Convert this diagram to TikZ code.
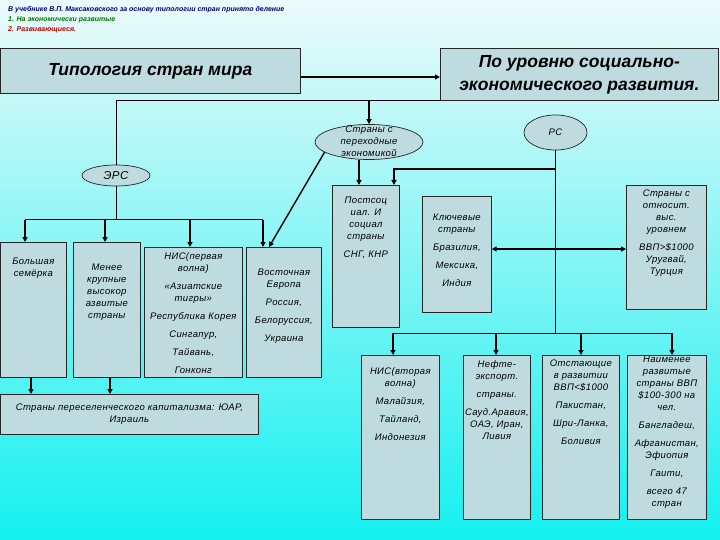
\documentclass[tikz,border=0pt]{standalone}
\usepackage{fontspec}
\setmainfont{Liberation Sans}
\newfontfamily\bxfont[LetterSpace=4]{Liberation Sans}
\usetikzlibrary{shapes.geometric,arrows.meta}
\definecolor{boxfill}{RGB}{190,220,224}
\definecolor{bgtop}{RGB}{236,250,250}
\definecolor{bgmid}{RGB}{160,240,244}
\definecolor{bgbot}{RGB}{20,240,240}
\definecolor{navytxt}{RGB}{0,0,128}
\definecolor{greentxt}{RGB}{0,120,0}
\definecolor{redtxt}{RGB}{190,0,0}
\newcommand{\btext}[4]{\parbox[c][#2][t]{#1}{\centering\vspace*{#3}#4\par}}
\newcommand{\ztext}[1]{\makebox[0pt]{\smash{\raisebox{-2.5pt}{\begin{tabular}{@{}c@{}}#1\end{tabular}}}}}
\begin{document}
\begin{tikzpicture}[x=1pt,y=-1pt,
  box/.style={draw=black!85, fill=boxfill, line width=0.7pt, inner sep=0pt, anchor=north west,
    font=\bxfont\itshape\fontsize{9.5}{12}\selectfont},
  titlebox/.style={draw=black!85, fill=boxfill, line width=0.7pt, inner sep=0pt, anchor=north west,
    align=center, font=\bfseries\itshape\fontsize{17.5}{23}\selectfont},
  ell/.style={ellipse, draw=black!85, fill=boxfill, line width=0.7pt, inner sep=0pt,
    font=\bxfont\itshape\fontsize{9.5}{12}\selectfont},
  note/.style={anchor=west, inner sep=0pt, font=\bfseries\itshape\fontsize{7}{8}\selectfont},
  line/.style={line width=1pt},
  arr/.style={line width=1.4pt, -{Triangle[length=5pt,width=5pt]}},
  arr2/.style={line width=1.2pt, {Triangle[length=5pt,width=5pt]}-{Triangle[length=5pt,width=5pt]}}]
\useasboundingbox (0,0) rectangle (720,540);
\shade[top color=bgtop, middle color=bgmid, bottom color=bgbot] (0,0) rectangle (720,540);

% notes
\node[note, text=navytxt] (n1) at (8,10) {В учебнике В.П. Максаковского за основу типологии стран принято деление};
\node[note, text=greentxt] (n2) at (8,20) {1. На экономически развитые};
\node[note, text=redtxt] (n3) at (8,30) {2. Развивающиеся.};

% titles
\node[titlebox, minimum width=300pt, minimum height=45pt] (typ) at (0,48) {Типология стран мира};
\node[titlebox, minimum width=278pt, minimum height=52pt] (lvl) at (440,48) {По уровню социально-\\экономического развития.};

% ellipses
\node[ell, minimum width=68pt, minimum height=21pt, font=\bxfont\itshape\fontsize{11.5}{12}\selectfont] (ers) at (116,175.5) {ЭРС};
\node[ell, minimum width=108pt, minimum height=35pt] (trans) at (369,142) {\ztext{Страны с\\переходные\\экономикой}};
\node[ell, minimum width=63pt, minimum height=35pt] (pc) at (555.5,132.5) {РС};

% left row
\node[box] (big) at (0,242) {\btext{66pt}{135pt}{16pt}{Большая\\семёрка}};
\node[box] (less) at (73,242) {\btext{67pt}{135pt}{22pt}{Менее\\крупные\\высокор\\азвитые\\страны}};
\node[box] (nis1) at (144,247) {\btext{98pt}{130pt}{5pt}{НИС(первая\\волна)\\[6pt]«Азиатские\\тигры»\\[6pt]Республика Корея\\[6pt]Сингапур,\\[6pt]Тайвань,\\[6pt]Гонконг}};
\node[box] (east) at (246,247) {\btext{75pt}{130pt}{22pt}{Восточная\\Европа\\[6pt]Россия,\\[6pt]Белоруссия,\\[6pt]Украина}};

% middle
\node[box] (post) at (332,185) {\btext{67pt}{142pt}{12pt}{Постсоц\\иал. И\\социал\\страны\\[6pt]СНГ, КНР}};
\node[box] (key) at (422,196) {\btext{69pt}{116pt}{18pt}{Ключевые\\страны\\[6pt]Бразилия,\\[6pt]Мексика,\\[6pt]Индия}};
\node[box] (high) at (626,185) {\btext{80pt}{124pt}{5pt}{Страны с\\относит.\\выс.\\уровнем\\[6pt]ВВП>\$1000\\Уругвай,\\Турция}};

% settlement
\node[box, minimum width=258pt, minimum height=40pt, align=center] (settle) at (0,394) {Страны переселенческого капитализма: ЮАР,\\Израиль};

% bottom row
\node[box] (nis2) at (361,355) {\btext{78pt}{164pt}{12pt}{НИС(вторая\\волна)\\[6pt]Малайзия,\\[6pt]Тайланд,\\[6pt]Индонезия}};
\node[box] (oil) at (463,355) {\btext{67pt}{164pt}{5pt}{Нефте-\\экспорт.\\[6pt]страны.\\[6pt]Сауд.Аравия,\\ОАЭ, Иран,\\Ливия}};
\node[box] (lag) at (542,355) {\btext{77pt}{164pt}{5pt}{Отстающие\\в развитии\\ВВП<\$1000\\[6pt]Пакистан,\\[6pt]Шри-Ланка,\\[6pt]Боливия}};
\node[box] (least) at (627,355) {\btext{79pt}{164pt}{1pt}{Наименее\\развитые\\страны ВВП\\\$100-300 на\\чел.\\[6pt]Бангладеш,\\[6pt]Афганистан,\\Эфиопия\\[6pt]Гаити,\\[6pt]всего 47\\стран}};

% connectors
\draw[arr] (typ.east |- 0,77) -- (lvl.west |- 0,77);
\draw[line] (lvl.south west) -| (ers.north);
\draw[arr] (trans.north |- lvl.south) -- (trans.north);

\draw[line] (ers.south) -- (116,220);
\draw[line] (25,220) -- (263,220);
\draw[arr] (25,220) -- (25,0 |- big.north);
\draw[arr] (105,220) -- (105,0 |- less.north);
\draw[arr] (190,220) -- (190,0 |- nis1.north);
\draw[arr] (263,220) -- (263,0 |- east.north);
\draw[arr] (trans.193) -- (269,0 |- east.north);

\draw[arr] (trans.south -| 359,0) -- (359,0 |- post.north);
\draw[line] (pc.south) -- (pc.south |- 0,333);
\draw[arr] (pc.south |- 0,169) -| (394,0 |- post.north);
\draw[arr2] (key.east |- 0,249) -- (high.west |- 0,249);

\draw[line] (393,333) -- (672,333);
\draw[arr] (393,333) -- (393,0 |- nis2.north);
\draw[arr] (496,333) -- (496,0 |- oil.north);
\draw[arr] (581,333) -- (581,0 |- lag.north);
\draw[arr] (672,333) -- (672,0 |- least.north);

\draw[arr] (31,0 |- big.south) -- (31,0 |- settle.north);
\draw[arr] (110,0 |- less.south) -- (110,0 |- settle.north);
\end{tikzpicture}
\end{document}
